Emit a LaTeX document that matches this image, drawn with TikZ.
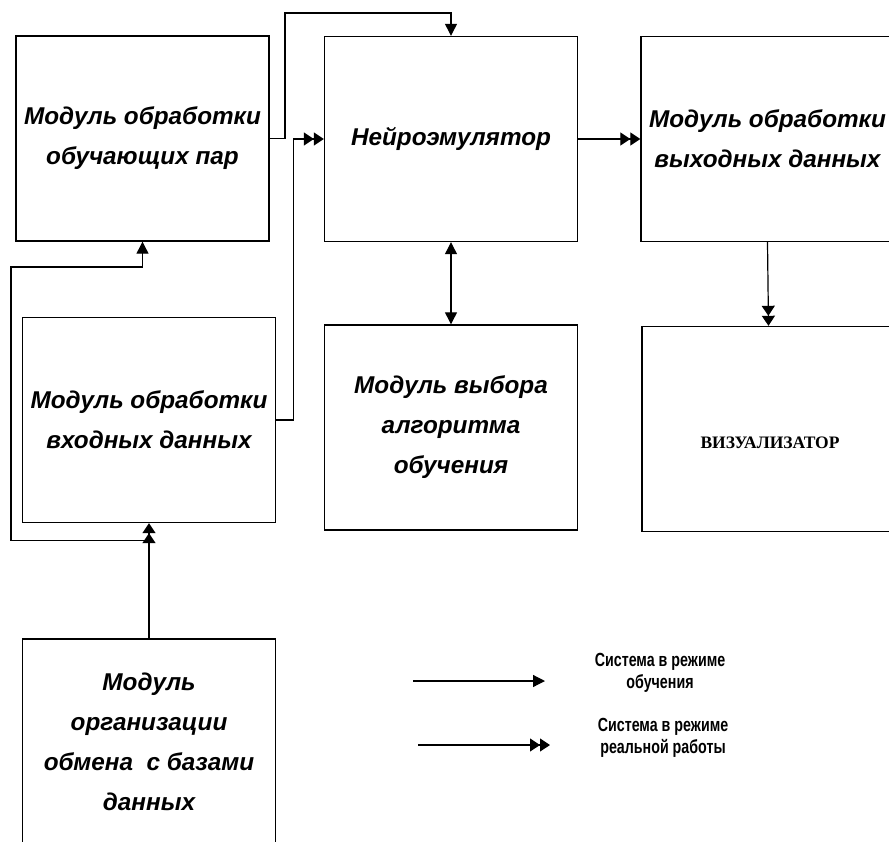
\documentclass[tikz,border=0pt]{standalone}
\usepackage{fontspec}
\setmainfont{Liberation Sans}
\newfontfamily\legfont[FakeStretch=0.75]{Liberation Sans}
\newfontfamily\visfont{Liberation Serif}
\usepackage{tikz}
\usetikzlibrary{positioning, arrows.meta}
\tikzset{
  blk/.style={draw, line width=1.4pt, minimum width=253pt, minimum height=205pt,
              inner sep=0pt, align=center, font=\fontsize{24.3}{40}\selectfont\bfseries\itshape},
  one/.style={-{Triangle[length=12pt,width=12pt]}, line width=1.2pt},
  two/.style={-{Triangle[length=10pt,width=13pt]Triangle[length=10pt,width=13pt]}, line width=1.2pt},
  both/.style={{Triangle[length=12pt,width=12pt]}-{Triangle[length=12pt,width=12pt]}, line width=1.2pt},
  leg/.style={font=\fontsize{19}{22}\selectfont\legfont\bfseries, align=center}
}
\begin{document}
\begin{tikzpicture}[x=1pt, y=-1pt]
  \useasboundingbox (0,0) rectangle (889,841);
  \clip (0,0) rectangle (889,841);
  \node[blk] (pairs) at (142.5,138.5) {Модуль обработки\\обучающих пар};
  \node[blk] (input) at (149,420) {Модуль обработки\\входных данных};
  \node[blk] (exch) at (149,741.5) {Модуль\\организации\\обмена\ \ с базами\\данных};
  \node[blk] (neuro) at (451,139) {Нейроэмулятор};
  \node[blk] (algo) at (451,427.5) {Модуль выбора\\алгоритма\\обучения};
  \node[blk] (out) at (767.5,139) {Модуль обработки\\выходных данных};
  \node[blk] (vis) at (768.5,429) {};
  \node[font=\fontsize{17.5}{20}\selectfont\visfont\bfseries] at (770,443) {ВИЗУАЛИЗАТОР};
  % training links
  \coordinate (bend) at (285,13);
  \draw[one] (pairs.east) -| (bend) -| (neuro.north);
  \coordinate[below=17pt of input.south] (split);
  \coordinate (loop) at (11,267);
  \draw[one] (split) -| (loop) -| (pairs.south);
  % working links
  \draw[two] (input.east) -- ++(17,0) |- (neuro.west);
  \draw[two] (neuro.east) -- (out.west);
  \draw[two] (out.south) -- (vis.north);
  \draw[two] (exch.north) -- (input.south);
  \draw[both] (neuro.south) -- (algo.north);
  % legend
  \coordinate (la) at (413,681); \coordinate (lb) at (545,681);
  \coordinate (lc) at (418,745); \coordinate (ld) at (550,745);
  \draw[one] (la) -- (lb);
  \draw[two] (lc) -- (ld);
  \node[leg] (l1) at (660,673) {Система в режиме\\обучения};
  \node[leg] (l2) at (663,738) {Система в режиме\\реальной работы};
\end{tikzpicture}
\end{document}
